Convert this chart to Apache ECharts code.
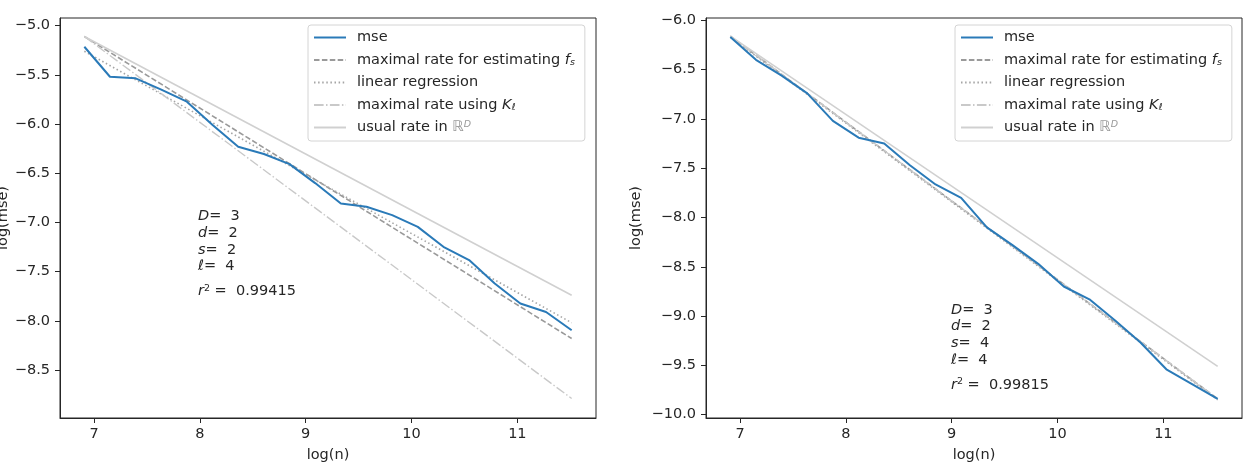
<!DOCTYPE html>
<html><head><meta charset="utf-8">
<script src="https://cdn.jsdelivr.net/npm/echarts@6/dist/echarts.min.js"></script>
<style>html,body{margin:0;padding:0;background:#fff}#c{width:1245px;height:467px}</style>
</head><body><div id="c"></div><script>
// ---- data ----
const logN = [6.908, 7.150, 7.393, 7.635, 7.877, 8.120, 8.362, 8.605, 8.847, 9.089,
              9.332, 9.574, 9.817, 10.059, 10.301, 10.544, 10.786, 11.028, 11.271, 11.513];
const mseLeft = [-5.214, -5.519, -5.535, -5.65, -5.773, -6.01, -6.23, -6.305, -6.407, -6.60,
                 -6.807, -6.841, -6.926, -7.045, -7.248, -7.383, -7.62, -7.824, -7.91, -8.096];
const mseRight = [-6.17, -6.40, -6.56, -6.74, -7.02, -7.19, -7.25, -7.47, -7.665, -7.80,
                  -8.10, -8.28, -8.47, -8.70, -8.83, -9.045, -9.27, -9.54, -9.69, -9.84];
const lineEndsX = [6.908, 11.513];
const leftRateFs = [-5.11, -8.18];
const leftRegression = [-5.26, -8.02];
const leftRateK = [-5.11, -8.79];
const leftUsual = [-5.11, -7.74];
const rightRateFs = [-6.16, -9.84];
const rightRegression = [-6.17, -9.85];
const rightRateK = [-6.16, -9.84];
const rightUsual = [-6.16, -9.51];
const xTicks = [7, 8, 9, 10, 11];
const yTicksLeft = [-8.5, -8.0, -7.5, -7.0, -6.5, -6.0, -5.5, -5.0];
const yTicksRight = [-10.0, -9.5, -9.0, -8.5, -8.0, -7.5, -7.0, -6.5, -6.0];
const paramsLeft = [['D', '3'], ['d', '2'], ['s', '2'], ['ℓ', '4']];
const r2Left = '0.99415';
const paramsRight = [['D', '3'], ['d', '2'], ['s', '4'], ['ℓ', '4']];
const r2Right = '0.99815';
const seriesNames = ['mse', 'fs', 'reg', 'K', 'usual'];
const legendLabels = {
  mse: 'mse',
  fs: 'maximal rate for estimating {i|f}{sub|s}',
  reg: 'linear regression',
  K: 'maximal rate using {i|K}{sub|ℓ}',
  usual: 'usual rate in {bb|ℝ}{sup|D}'
};

// ---- styling ----
const FONT = 'DejaVu Sans';
const TXT = '#262626';
const FS = 14.5;
const pairs = (xs, ys) => xs.map((x, i) => [x, ys[i]]);
const fmtY = v => (v < 0 ? '\u2212' : '') + Math.abs(v).toFixed(1);
const styles = {
  mse:   {color: '#2a7ab8', width: 2, type: 'solid'},
  fs:    {color: '#9a9a9a', width: 1.6, type: [5.5, 2.4]},
  reg:   {color: '#a5a5a5', width: 1.6, type: [1.5, 2.6]},
  K:     {color: '#c9c9c9', width: 1.4, type: [9.6, 2.4, 1.5, 2.4]},
  usual: {color: '#d0d0d0', width: 1.6, type: 'solid'}
};
const richText = {
  i: {fontFamily: FONT, fontStyle: 'italic', fontSize: FS, color: TXT},
  sub: {fontFamily: FONT, fontStyle: 'italic', fontSize: 9.5, color: TXT, padding: [5, 0, 0, 0]},
  sup: {fontFamily: FONT, fontStyle: 'italic', fontSize: 9.5, color: '#999', padding: [0, 0, 5, 0]},
  sup2: {fontFamily: FONT, fontSize: 9.5, color: TXT, padding: [0, 0, 6, 0]},
  bb: {fontFamily: FONT, fontSize: FS, color: '#999'}
};

function mkSeries(gi, mse, fs, reg, K, usual) {
  const data = {mse: pairs(logN, mse), fs: pairs(lineEndsX, fs), reg: pairs(lineEndsX, reg),
                K: pairs(lineEndsX, K), usual: pairs(lineEndsX, usual)};
  return seriesNames.map(n => ({
    name: n, type: 'line', xAxisIndex: gi, yAxisIndex: gi, data: data[n],
    symbol: 'none', silent: true, animation: false, z: n === 'mse' ? 3 : 2,
    color: styles[n].color,
    lineStyle: {color: styles[n].color, width: styles[n].width, type: styles[n].type}
  }));
}

function mkX(gi) {
  return {
    type: 'value', gridIndex: gi, min: 6.678, max: 11.743,
    axisLine: {show: true, onZero: false, lineStyle: {color: TXT, width: 1}},
    axisTick: {show: true, length: 5, customValues: xTicks, lineStyle: {color: TXT}},
    axisLabel: {customValues: xTicks, margin: 9, fontSize: FS, color: TXT, fontFamily: FONT},
    splitLine: {show: false},
    name: 'log(n)', nameLocation: 'middle', nameGap: 30,
    nameTextStyle: {fontSize: FS, color: TXT, fontFamily: FONT}
  };
}
function mkY(gi, min, max, ticks, gap) {
  return {
    type: 'value', gridIndex: gi, min: min, max: max,
    axisLine: {show: true, onZero: false, lineStyle: {color: TXT, width: 1}},
    axisTick: {show: true, length: 5, customValues: ticks, lineStyle: {color: TXT}},
    axisLabel: {customValues: ticks, margin: 10, fontSize: FS, color: TXT, fontFamily: FONT, formatter: fmtY},
    splitLine: {show: false},
    name: 'log(mse)', nameLocation: 'middle', nameGap: gap,
    nameTextStyle: {fontSize: FS, color: TXT, fontFamily: FONT}
  };
}
function mkLegend(left) {
  return {
    orient: 'vertical', left: left, top: 25, itemWidth: 32, itemHeight: 14, itemGap: 7.5,
    padding: [5, 10, 6, 5], backgroundColor: '#fff', borderColor: '#d4d4d4', borderWidth: 1,
    borderRadius: 3, selectedMode: false, data: seriesNames,
    itemStyle: {opacity: 0},
    formatter: n => legendLabels[n],
    textStyle: {fontFamily: FONT, fontSize: FS, color: TXT, padding: [0, 0, 0, 6], rich: richText}
  };
}
function mkNotes(x, ys, params, r2) {
  const out = params.map((p, k) => ({
    type: 'text', x: x, y: ys[k], silent: true,
    style: {text: '{i|' + p[0] + '}=  ' + p[1], fill: TXT, fontSize: FS, fontFamily: FONT,
            verticalAlign: 'middle', align: 'left', rich: richText}
  }));
  out.push({
    type: 'text', x: x, y: ys[4], silent: true,
    style: {text: '{i|r}{sup2|2} =  ' + r2, fill: TXT, fontSize: FS, fontFamily: FONT,
            verticalAlign: 'middle', align: 'left', rich: richText}
  });
  return out;
}

const chart = echarts.init(document.getElementById('c'), null, {renderer: 'canvas'});
chart.setOption({
  animation: false,
  backgroundColor: '#fff',
  grid: [
    {left: 60, top: 18, width: 536, height: 400, show: true, borderColor: TXT, borderWidth: 1,
     backgroundColor: 'transparent', containLabel: false, outerBoundsMode: 'none'},
    {left: 706, top: 18, width: 536, height: 400, show: true, borderColor: TXT, borderWidth: 1,
     backgroundColor: 'transparent', containLabel: false, outerBoundsMode: 'none'}
  ],
  xAxis: [mkX(0), mkX(1)],
  yAxis: [mkY(0, -8.988, -4.922, yTicksLeft, 47), mkY(1, -10.034, -5.976, yTicksRight, 62)],
  legend: [mkLegend(308), mkLegend(955)],
  series: mkSeries(0, mseLeft, leftRateFs, leftRegression, leftRateK, leftUsual)
    .concat(mkSeries(1, mseRight, rightRateFs, rightRegression, rightRateK, rightUsual)),
  graphic: mkNotes(198, [216.5, 233.2, 250, 266.7, 291.5], paramsLeft, r2Left)
    .concat(mkNotes(951, [310, 326.7, 343.3, 360, 385], paramsRight, r2Right))
});
</script></body></html>
